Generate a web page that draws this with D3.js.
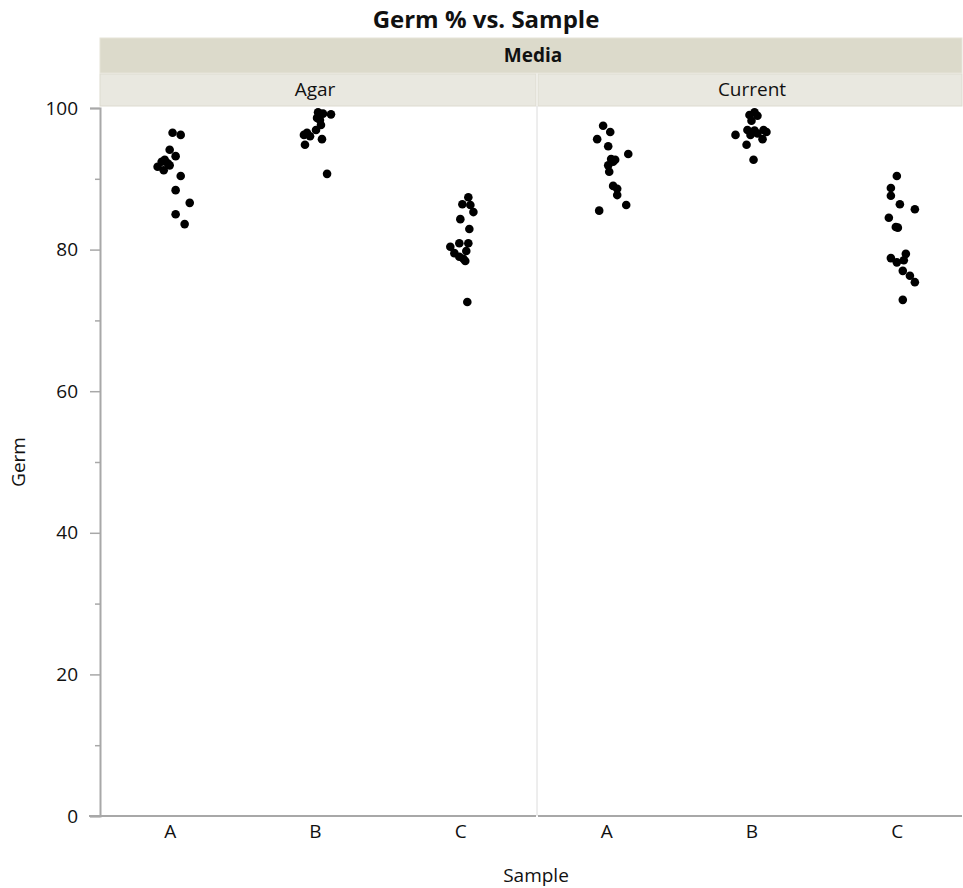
<!DOCTYPE html>
<html>
<head>
<meta charset="utf-8">
<script src="https://cdn.jsdelivr.net/npm/d3@7"></script>
<style>
  body { margin: 0; background: #fff; }
  text { font-family: "Open Sans", "Noto Sans", sans-serif; fill: #111; }
</style>
</head>
<body>
<svg id="chart" width="963" height="888"></svg>
<script>
// categories
var media = ["Agar", "Current"];
var samples = ["A", "B", "C"];
var yTicks = [0, 20, 40, 60, 80, 100];

// germ values per media / sample
var agarA = [96.5, 96.2, 94.1, 93.2, 92.7, 92.4, 92.2, 91.9, 91.7, 91.2, 90.4, 88.4, 86.6, 85.0, 83.6];
var agarB = [99.4, 99.2, 99.1, 98.6, 98.3, 97.6, 96.9, 96.5, 96.2, 96.0, 95.6, 94.8, 90.7];
var agarC = [87.4, 86.4, 86.3, 85.3, 84.3, 82.9, 80.9, 80.9, 80.4, 79.8, 79.5, 79.0, 78.7, 78.4, 72.6];
var currentA = [97.5, 96.6, 95.6, 94.6, 93.5, 92.8, 92.7, 92.4, 91.9, 91.0, 89.0, 88.6, 87.7, 86.3, 85.5];
var currentB = [99.4, 99.0, 98.9, 98.2, 96.9, 96.8, 96.9, 96.6, 96.2, 96.2, 96.4, 95.6, 94.8, 92.7];
var currentC = [90.4, 88.7, 87.6, 86.4, 85.7, 84.5, 83.2, 83.1, 79.4, 78.8, 78.5, 78.2, 77.0, 76.3, 75.4, 72.9];

// horizontal jitter as a fraction of the category step
var agarAJit = [0.02, 0.076, 0, 0.041, -0.034, -0.055, -0.014, 0, -0.083, -0.041, 0.076, 0.041, 0.138, 0.041, 0.103];
var agarBJit = [0.021, 0.055, 0.11, 0.014, 0.034, 0.041, 0.007, -0.055, -0.076, -0.034, 0.048, -0.069, 0.083];
var agarCJit = [0.055, 0.014, 0.069, 0.09, 0, 0.062, -0.007, 0.055, -0.069, 0.041, -0.041, -0.007, 0.021, 0.034, 0.048];
var currentAJit = [-0.021, 0.028, -0.062, 0.014, 0.152, 0.034, 0.062, 0.048, 0.014, 0.021, 0.048, 0.076, 0.076, 0.138, -0.048];
var currentBJit = [0.021, -0.014, 0.041, 0, -0.028, 0.021, 0.083, 0.103, -0.11, -0.007, 0.041, 0.076, -0.034, 0.014];
var currentCJit = [0, -0.041, -0.041, 0.021, 0.124, -0.055, -0.007, 0.007, 0.062, -0.041, 0.048, 0, 0.041, 0.09, 0.124, 0.041];

var groups = [
    {media: "Agar", sample: "A", values: agarA, jitter: agarAJit},
    {media: "Agar", sample: "B", values: agarB, jitter: agarBJit},
    {media: "Agar", sample: "C", values: agarC, jitter: agarCJit},
    {media: "Current", sample: "A", values: currentA, jitter: currentAJit},
    {media: "Current", sample: "B", values: currentB, jitter: currentBJit},
    {media: "Current", sample: "C", values: currentC, jitter: currentCJit}
];

var svg = d3.select("#chart");
var axisColor = "#a8a8a8";
var labelFont = "19px";

// panel extents
var panels = {
    "Agar": {x0: 100, x1: 536, range: [97, 533], labelX: 315},
    "Current": {x0: 538, x1: 962, range: [533.5, 969.5], labelX: 752}
};
var yTop = 108, yBottom = 816;

var y = d3.scaleLinear().domain([0, 100]).range([yBottom, yTop]);

// title
svg.append("text")
    .attr("x", 486).attr("y", 28)
    .attr("text-anchor", "middle")
    .style("font-size", "24px").style("font-weight", "bold")
    .text("Germ % vs. Sample");

// media header
svg.append("rect")
    .attr("x", 100).attr("y", 38).attr("width", 862).attr("height", 35)
    .attr("fill", "#dcdacb").attr("stroke", "#e6e4d8");
svg.append("text")
    .attr("x", 533).attr("y", 62)
    .attr("text-anchor", "middle")
    .style("font-size", labelFont).style("font-weight", "bold")
    .text("Media");

media.forEach(function(m){
    var p = panels[m];
    svg.append("rect")
        .attr("x", p.x0).attr("y", 74).attr("width", p.x1 - p.x0).attr("height", 32)
        .attr("fill", "#e9e8e0").attr("stroke", "#dddbd0");
    svg.append("text")
        .attr("x", p.labelX).attr("y", 96)
        .attr("text-anchor", "middle")
        .style("font-size", labelFont)
        .text(m);
});

// panel divider
svg.append("line")
    .attr("x1", 537).attr("x2", 537).attr("y1", 106).attr("y2", yBottom)
    .attr("stroke", "#dcdcdc").attr("stroke-width", 1);

// y axis with major and minor ticks
var yAxisG = svg.append("g").attr("transform", "translate(100,0)");
yAxisG.call(d3.axisLeft(y).tickValues(yTicks).tickSize(10).tickPadding(12))
    .call(function(g){
        g.select(".domain").attr("stroke", axisColor).attr("stroke-width", 2);
        g.selectAll(".tick line").attr("stroke", axisColor).attr("stroke-width", 1.5);
        g.selectAll(".tick text").style("font-size", labelFont).attr("fill", "#111")
            .style("font-family", "'Open Sans', 'Noto Sans', sans-serif");
    });
svg.append("g").attr("transform", "translate(100,0)")
    .call(d3.axisLeft(y).tickValues([10, 30, 50, 70, 90]).tickSize(5).tickFormat(""))
    .call(function(g){
        g.select(".domain").remove();
        g.selectAll(".tick line").attr("stroke", axisColor).attr("stroke-width", 1.5);
    });

// y label
svg.append("text")
    .attr("transform", "translate(25,462) rotate(-90)")
    .attr("text-anchor", "middle")
    .style("font-size", labelFont)
    .text("Germ");

// x axes per panel
var xScales = {};
media.forEach(function(m){
    var p = panels[m];
    var x = d3.scalePoint().domain(samples).range(p.range).padding(0.5);
    xScales[m] = x;
    var g = svg.append("g").attr("transform", "translate(0," + yBottom + ")");
    g.call(d3.axisBottom(x).tickSize(0).tickPadding(9))
        .call(function(g){
            g.select(".domain").remove();
            g.selectAll(".tick text").style("font-size", labelFont).attr("fill", "#111")
                .style("font-family", "'Open Sans', 'Noto Sans', sans-serif");
        });
    g.append("line")
        .attr("x1", m == "Agar" ? 89 : p.x0).attr("x2", p.x1)
        .attr("y1", 0).attr("y2", 0)
        .attr("stroke", axisColor).attr("stroke-width", 2);
});

// x label
svg.append("text")
    .attr("x", 536).attr("y", 882)
    .attr("text-anchor", "middle")
    .style("font-size", labelFont)
    .text("Sample");

// points
groups.forEach(function(grp){
    var x = xScales[grp.media];
    var step = x.step();
    svg.append("g").selectAll("circle")
        .data(grp.values)
        .enter().append("circle")
        .attr("cx", function(d, i){ return x(grp.sample) + grp.jitter[i] * step; })
        .attr("cy", function(d){ return y(d); })
        .attr("r", 4.3)
        .attr("fill", "#000");
});
</script>
</body>
</html>
